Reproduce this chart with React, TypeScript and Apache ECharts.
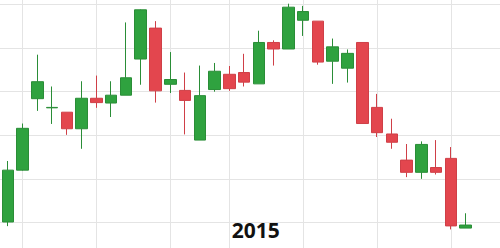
import React, { useEffect, useRef } from "react";
import * as echarts from "echarts";

// Weekly candles: [open, close, low, high]
const candles: number[][] = [
  [0.1, 12.0, -0.85, 14.1],
  [12.0, 21.6, 11.9, 22.7],
  [28.4, 32.3, 25.6, 38.5],
  [26.3, 26.4, 22.6, 31.2],
  [25.3, 21.5, 20.1, 25.3],
  [21.5, 28.5, 16.9, 32.4],
  [28.5, 27.5, 26.3, 33.7],
  [27.4, 29.2, 24.2, 32.4],
  [29.2, 33.2, 29.2, 45.9],
  [37.5, 48.8, 31.6, 48.9],
  [44.6, 30.2, 27.5, 46.2],
  [31.7, 32.8, 29.7, 39.1],
  [30.3, 28.0, 20.2, 34.4],
  [18.9, 29.1, 18.9, 36.0],
  [30.5, 34.7, 30.0, 36.6],
  [34.0, 30.7, 30.2, 35.9],
  [34.4, 32.2, 31.2, 38.7],
  [31.8, 41.3, 31.8, 44.0],
  [41.3, 39.8, 36.0, 41.8],
  [39.8, 49.4, 39.8, 50.2],
  [46.4, 48.4, 42.8, 49.7],
  [46.2, 36.8, 36.2, 46.2],
  [37.0, 40.3, 31.8, 42.2],
  [35.4, 38.8, 32.1, 39.7],
  [41.3, 22.7, 22.7, 41.3],
  [26.4, 20.6, 19.6, 29.5],
  [20.3, 18.4, 16.9, 23.8],
  [14.3, 11.5, 10.4, 18.0],
  [11.5, 17.9, 10.0, 18.6],
  [12.6, 11.5, 11.0, 18.9],
  [14.7, -0.8, -1.6, 17.3],
  [-1.3, -0.6, -1.3, 2.1],
];

// One empty slot before and three after the candles
const categories: string[] = Array.from({ length: candles.length + 4 }, (_, i) => "w" + i);
const padBefore = 1;
// Candle indices where the vertical grid lines sit
const verticalGridIdx: number[] = [1, 6, 11, 15, 20, 25, 30];
const yearLabel = "2015";

// The chart canvas is larger than the window and shifted so that the
// outer (invisible) grid lines fall outside the visible area.
const OFF_X = 6.77;
const OFF_Y = 39.4;
const W = 517;
const H = 305.4;

export default function App() {
  const ref = useRef<HTMLDivElement>(null);
  useEffect(() => {
    document.body.style.overflow = "hidden";
    if (!ref.current) return;
    const chart = echarts.init(ref.current, null, { renderer: "svg" });
    const seriesData: any[] = categories.map((_, i) => {
      const k = i - padBefore;
      return k >= 0 && k < candles.length ? candles[k] : "-";
    });
    const vset = new Set(verticalGridIdx.map((v) => v + padBefore));
    chart.setOption({
      animation: false,
      grid: { left: 0, right: 0, top: 0, bottom: 0, containLabel: false },
      xAxis: {
        type: "category",
        data: categories,
        boundaryGap: false,
        axisLine: { show: false },
        axisTick: { show: false },
        axisLabel: { show: false },
        splitLine: {
          show: true,
          interval: (index: number) => vset.has(index),
          lineStyle: { color: "#e4e4e4", width: 1 },
        },
      },
      yAxis: {
        type: "value",
        min: -10,
        max: 60,
        interval: 10,
        axisLine: { show: false },
        axisTick: { show: false },
        axisLabel: { show: false },
        splitLine: { show: true, lineStyle: { color: "#e4e4e4", width: 1 } },
      },
      series: [
        {
          type: "candlestick",
          data: seriesData,
          barWidth: 12,
          clip: false,
          itemStyle: {
            color: "#2fa23f",
            color0: "#e3464e",
            borderColor: "#2a8d37",
            borderColor0: "#cf3f47",
            borderWidth: 1,
          },
        },
      ],
      graphic: [
        {
          type: "text",
          left: 232 + OFF_X,
          top: 219 + OFF_Y,
          style: {
            text: yearLabel,
            fill: "#111111",
            font: "bold 21px 'Open Sans'",
          },
        },
      ],
    });
    return () => chart.dispose();
  }, []);
  return (
    <div
      ref={ref}
      style={{
        position: "fixed",
        left: -OFF_X,
        top: -OFF_Y,
        width: W,
        height: H,
        background: "#ffffff",
      }}
    />
  );
}
